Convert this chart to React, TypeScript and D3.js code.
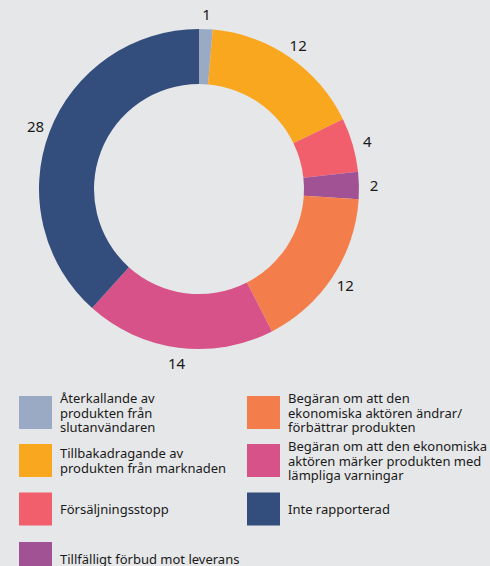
import React from "react";
import * as d3 from "d3";

const categories = [
  "Återkallande av produkten från slutanvändaren",
  "Tillbakadragande av produkten från marknaden",
  "Försäljningsstopp",
  "Tillfälligt förbud mot leverans",
  "Begäran om att den ekonomiska aktören ändrar/förbättrar produkten",
  "Begäran om att den ekonomiska aktören märker produkten med lämpliga varningar",
  "Inte rapporterad",
];
const values = [1, 12, 4, 2, 12, 14, 28];
const colors = ["#9aaac4", "#f9a71e", "#f15f6d", "#a15294", "#f47e4b", "#d65289", "#334d7c"];
const legendLines = [
  ["Återkallande av", "produkten från", "slutanvändaren"],
  ["Tillbakadragande av", "produkten från marknaden"],
  ["Försäljningsstopp"],
  ["Tillfälligt förbud mot leverans"],
  ["Begäran om att den", "ekonomiska aktören ändrar/", "förbättrar produkten"],
  ["Begäran om att den ekonomiska", "aktören märker produkten med", "lämpliga varningar"],
  ["Inte rapporterad"],
];
// legend placement: column index, row index
const legendCol = [0, 0, 0, 0, 1, 1, 1];
const legendRow = [0, 1, 2, 3, 0, 1, 2];

const W = 490;
const H = 566;
const cx = 199;
const cy = 189;
const rOuter = 160;
const rInner = 105;
const rLabel = 175;
const font = "'Noto Sans', sans-serif";

export default function App() {
  const data = values.map((v, i) => ({ v, i, name: categories[i] }));
  const pie = d3.pie<any>().value((d) => d.v).sort(null);
  const arcs = pie(data);
  const arc = d3.arc<any>().innerRadius(rInner).outerRadius(rOuter);
  const labelArc = d3.arc<any>().innerRadius(rLabel).outerRadius(rLabel);

  const colX = [19, 247];
  const rowY = [396, 444, 492.5, 542];
  const sq = 33;
  const lineH = 14.5;

  return (
    <svg
      width={W}
      height={H}
      style={{ position: "absolute", left: 0, top: 0, display: "block", background: "#e6e7e8" }}
    >
      <rect x={0} y={0} width={W} height={H} fill="#e6e7e8" />
      <g transform={`translate(${cx},${cy})`}>
        {arcs.map((a, i) => (
          <path key={i} d={arc(a) as string} fill={colors[i]} />
        ))}
        {arcs.map((a, i) => {
          const [x, y] = labelArc.centroid(a);
          return (
            <text
              key={"l" + i}
              x={x}
              y={y}
              textAnchor="middle"
              dominantBaseline="central"
              fontFamily={font}
              fontSize={15}
              fill="#1a1a1a"
            >
              {values[i]}
            </text>
          );
        })}
      </g>
      {legendLines.map((lines, i) => {
        const x = colX[legendCol[i]];
        const y = rowY[legendRow[i]];
        const cyy = y + sq / 2;
        const start = cyy - ((lines.length - 1) * lineH) / 2;
        return (
          <g key={"lg" + i}>
            <rect x={x} y={y} width={sq} height={sq} fill={colors[i]} />
            {lines.map((t, j) => (
              <text
                key={j}
                x={x + 41}
                y={start + j * lineH}
                dominantBaseline="central"
                fontFamily={font}
                fontSize={13}
                fill="#1a1a1a"
              >
                {t}
              </text>
            ))}
          </g>
        );
      })}
    </svg>
  );
}
